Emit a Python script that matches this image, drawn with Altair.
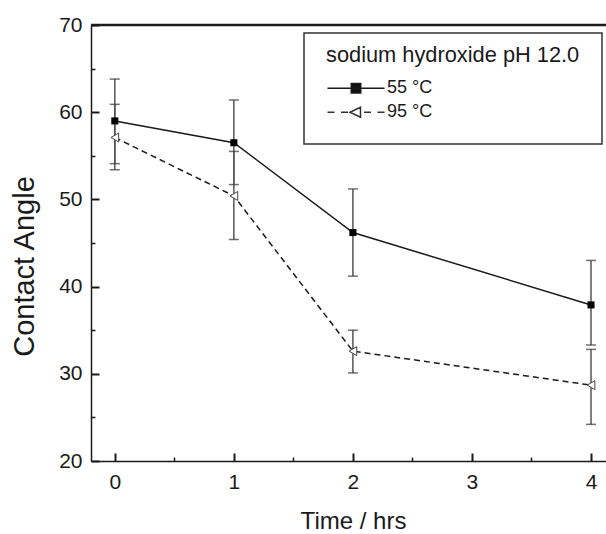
import altair as alt
import pandas as pd

# ---- data ----
time_hrs = [0, 1, 2, 4]
series_names = ["55 °C", "95 °C"]
angle_55 = [59.0, 56.5, 46.2, 37.9]
low_55 = [54.1, 51.7, 41.2, 33.3]
high_55 = [63.8, 61.4, 51.2, 43.0]
angle_95 = [57.1, 50.4, 32.6, 28.7]
low_95 = [53.4, 45.4, 30.1, 24.2]
high_95 = [60.9, 55.5, 35.0, 32.8]
x_ticks = [0, 0.5, 1, 1.5, 2, 2.5, 3, 3.5, 4]
y_ticks = [20, 25, 30, 35, 40, 45, 50, 55, 60, 65, 70]
y_top = [70]
legend_title = "sodium hydroxide pH 12.0"
x_title = "Time / hrs"
y_title = "Contact Angle"

rows = []
for name, m, lo, hi in [(series_names[0], angle_55, low_55, high_55),
                        (series_names[1], angle_95, low_95, high_95)]:
    for t, a, l, h in zip(time_hrs, m, lo, hi):
        rows.append({"series": name, "time": t, "angle": a, "low": l, "high": h})
df = pd.DataFrame(rows)
top_df = pd.DataFrame({"angle": y_top})

FONT = "Liberation Sans"
INK = "#1a1a1a"

x_axis = alt.Axis(
    values=x_ticks, title=x_title, grid=False,
    labelExpr="datum.value % 1 === 0 ? format(datum.value, 'd') : ''",
    tickSize={"expr": "datum.value % 1 === 0 ? -8 : -4"},
    tickWidth={"expr": "datum.value % 1 === 0 ? 2 : 1.5"},
    tickColor=INK, domainColor=INK, domainWidth=1.5,
    labelFont=FONT, labelFontSize=21, labelColor=INK, labelPadding=18,
    titleFont=FONT, titleFontSize=24, titleFontWeight="normal", titleColor=INK,
    titleX=262, titleY=67, titleBaseline="alphabetic",
)
y_axis = alt.Axis(
    values=y_ticks, title=y_title, grid=False,
    labelExpr="datum.value % 10 === 0 ? format(datum.value, 'd') : ''",
    tickSize={"expr": "datum.value % 10 === 0 ? -8 : -4"},
    tickWidth={"expr": "datum.value % 10 === 0 ? 2 : 1.5"},
    tickColor=INK, domainColor=INK, domainWidth=1.5,
    labelFont=FONT, labelFontSize=21, labelColor=INK, labelPadding=17,
    titleFont=FONT, titleFontSize=29, titleFontWeight="normal", titleColor=INK,
    titleX=-58, titleY=241, titleBaseline="alphabetic",
)
x_scale = alt.Scale(domain=[-0.2, 4.126], nice=False, zero=False)
y_scale = alt.Scale(domain=[20, 70], nice=False, zero=False)


def X():
    return alt.X("time:Q", scale=x_scale, axis=x_axis)


def Y(field):
    return alt.Y(f"{field}:Q", scale=y_scale, axis=y_axis)


base = alt.Chart(df)

whiskers = base.mark_rule(color="#555555", strokeWidth=1.5).encode(
    x=X(), y=Y("low"), y2="high:Q")
cap_lo = base.mark_tick(orient="horizontal", size=10, thickness=1.5,
                        color="#333333").encode(x=X(), y=Y("low"))
cap_hi = base.mark_tick(orient="horizontal", size=10, thickness=1.5,
                        color="#333333").encode(x=X(), y=Y("high"))

s55 = base.transform_filter(alt.datum.series == series_names[0])
s95 = base.transform_filter(alt.datum.series == series_names[1])

line55 = s55.mark_line(color=INK, strokeWidth=1.5).encode(x=X(), y=Y("angle"))
line95 = s95.mark_line(color=INK, strokeWidth=1.5, strokeDash=[6, 4]).encode(
    x=X(), y=Y("angle"))
pts55 = s55.mark_point(shape="square", size=50, filled=True, color="#000000",
                       opacity=1).encode(x=X(), y=Y("angle"))
pts95 = s95.mark_point(shape="triangle-left", size=80, filled=False,
                       fill="white", stroke="#444444", strokeWidth=1,
                       opacity=1).encode(x=X(), y=Y("angle"))

top_rule = alt.Chart(top_df).mark_rule(color=INK, strokeWidth=2.5).encode(
    y=Y("angle"))

# legend-only layer: the legend symbols are line + marker paths
path55 = "M-5.7,0H5.7M-0.95,-0.95H0.95V0.95H-0.95Z"
path95 = ("M-5.7,0H-4.3M-3,0H-1.6M1.6,0H3M4.3,0H5.7"
          "M-1.2,0L0.9,-1L0.9,1Z")
legend_def = alt.Legend(
    title=legend_title,
    orient="none", legendX=213, legendY=8, direction="vertical",
    titleFont=FONT, titleFontSize=21.8, titleFontWeight="normal", titleColor=INK,
    titleBaseline="middle", titlePadding=2.5, titleLimit=600,
    labelFont=FONT, labelFontSize=18, labelColor=INK, labelLimit=300,
    symbolSize=100, symbolStrokeWidth=1.5, symbolStrokeColor=INK,
    symbolOffset=21, labelOffset=22, rowPadding=6,
    padding=22, strokeColor="#333333", fillColor="white",
)
legend_layer = base.transform_filter("false").mark_point(
    filled=False, strokeWidth=1.5, opacity=1).encode(
    shape=alt.Shape("series:N", scale=alt.Scale(domain=series_names,
                                                range=[path55, path95]),
                    legend=legend_def),
    fill=alt.Fill("series:N", scale=alt.Scale(domain=series_names,
                                              range=["#111111", "#ffffff"]),
                  legend=legend_def),
    stroke=alt.Stroke("series:N", scale=alt.Scale(domain=series_names,
                                                  range=[INK, "#333333"]),
                      legend=legend_def),
)

chart = alt.layer(
    whiskers, cap_lo, cap_hi, line55, line95, pts55, pts95, top_rule,
    legend_layer,
).resolve_scale(shape="independent", fill="independent",
                stroke="independent").properties(
    width=515, height=436,
    autosize=alt.AutoSizeParams(type="none"),
    padding={"left": 91, "top": 25, "right": 0, "bottom": 73},
    background="white",
).configure_view(strokeWidth=0).configure_legend(strokeWidth=1.5)

chart.save("out.html", embed_options={"renderer": "svg", "actions": False})
